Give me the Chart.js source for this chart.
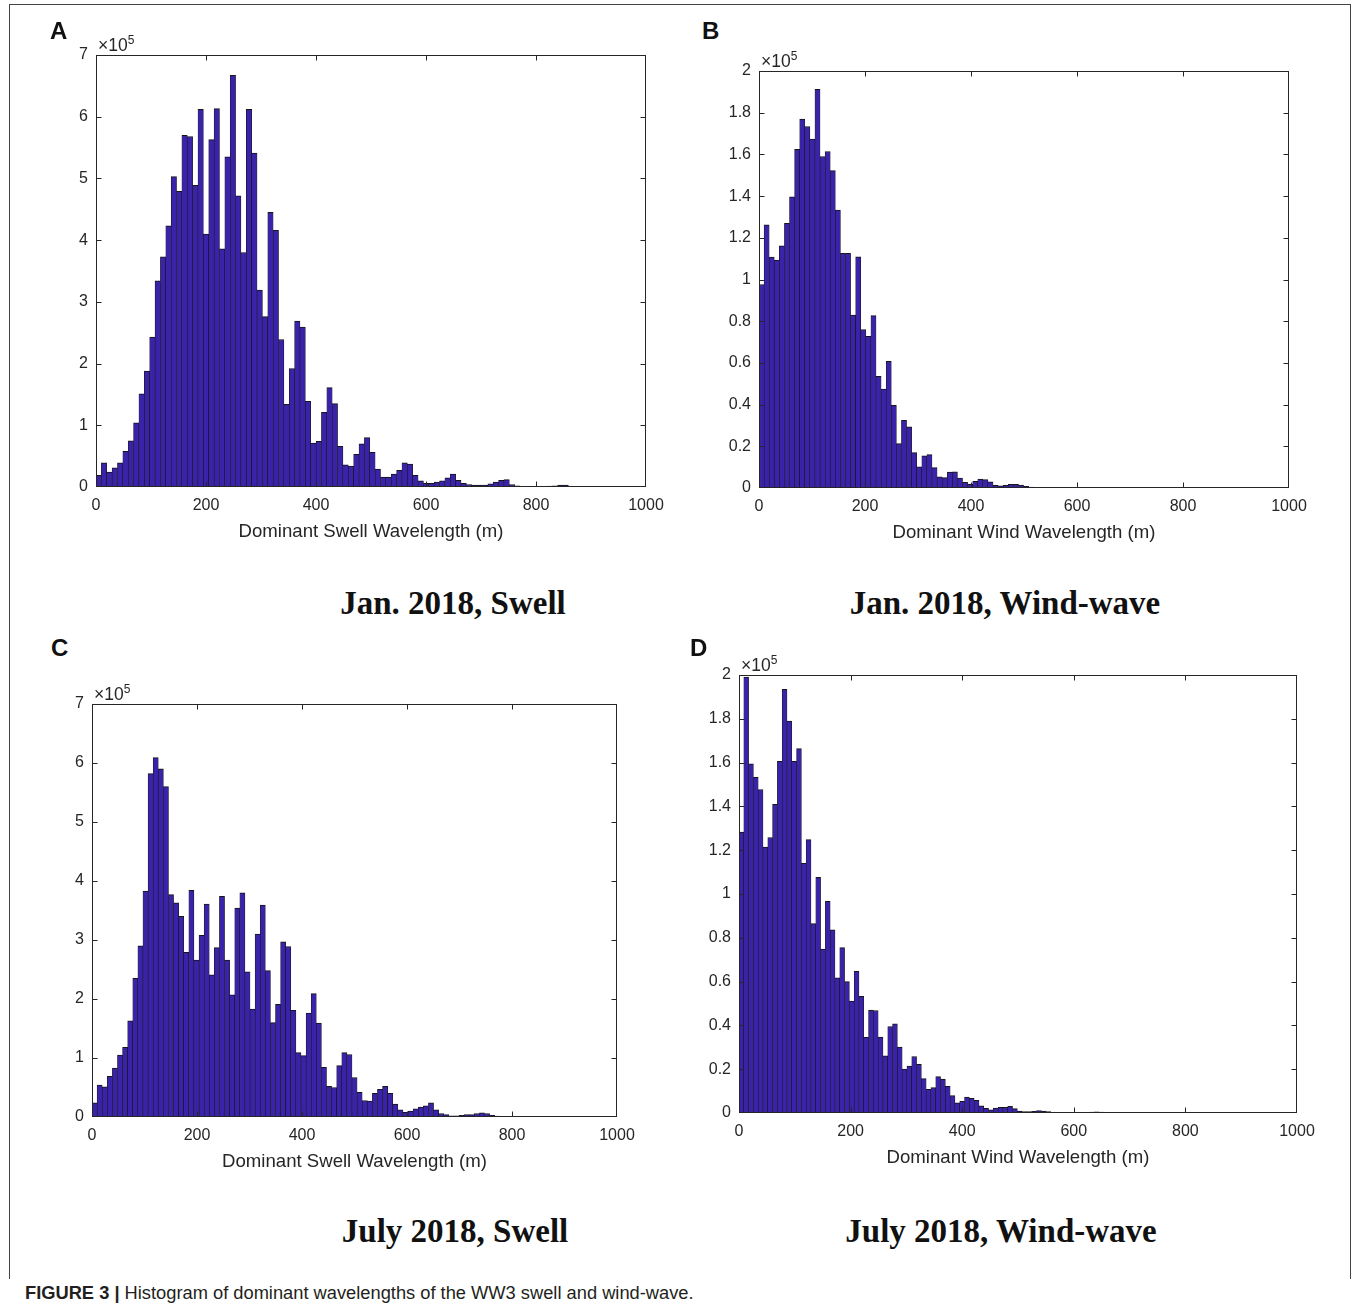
<!DOCTYPE html>
<html>
<head>
<meta charset="utf-8">
<script src="https://cdn.jsdelivr.net/npm/chart.js@4.4.0/dist/chart.umd.min.js"></script>
<style>
body { margin:0; background:#fff; width:1357px; height:1308px; position:relative; overflow:hidden;
       font-family:"Liberation Sans", Arial, Helvetica, sans-serif; }
canvas { position:absolute; }
.abs { position:absolute; white-space:nowrap; }
.frame { position:absolute; left:9px; top:4px; width:1340px; height:1274px; border:1px solid #444; border-bottom:none; }
.letter { font-weight:bold; font-size:24px; color:#111; line-height:24px; }
.mult { font-size:17.5px; color:#262626; line-height:18px; }
.mult sup { font-size:12px; vertical-align:7px; line-height:0; }
.xlabel { font-size:18.6px; color:#262626; transform:translate(-50%,-50%); }
.ptitle { font-family:"Liberation Serif", "Times New Roman", serif; font-weight:bold; font-size:33px; color:#111;
          transform:translate(-50%,-50%); }
.caption { font-size:18.3px; color:#231f20; transform:translateY(-50%); }
</style>
</head>
<body>
<div class="frame"></div>

<script>
// histogram counts, units of 1e5, one value per bin
const swellJan = [
  0.19, 0.39, 0.24, 0.31, 0.39, 0.58, 0.75, 1.04, 1.51, 1.88,
  2.43, 3.34, 3.73, 4.23, 5.03, 4.79, 5.70, 5.68, 4.89, 6.12,
  4.10, 5.63, 6.13, 3.86, 5.35, 6.67, 4.72, 3.80, 6.12, 5.41,
  3.19, 2.76, 4.45, 4.16, 2.39, 1.34, 1.92, 2.69, 2.59, 1.39,
  0.71, 0.74, 1.21, 1.61, 1.35, 0.66, 0.36, 0.34, 0.53, 0.70,
  0.80, 0.56, 0.29, 0.16, 0.16, 0.21, 0.27, 0.39, 0.37, 0.19,
  0.10, 0.06, 0.06, 0.08, 0.10, 0.15, 0.21, 0.11, 0.06, 0.04,
  0.03, 0.03, 0.03, 0.05, 0.08, 0.11, 0.12, 0.04, 0.02, 0.01,
  0.01, 0.01, 0.01, 0.01, 0.015, 0.02, 0.03, 0.03, 0.01, 0.005,
  0.005, 0.005, 0.004, 0.004, 0.004, 0.003, 0.003, 0.003, 0.002, 0.002
];
const windJan = [
  0.976, 1.262, 1.107, 1.093, 1.162, 1.270, 1.397, 1.624, 1.770, 1.734,
  1.674, 1.912, 1.590, 1.614, 1.522, 1.333, 1.126, 1.125, 0.829, 1.109,
  0.760, 0.728, 0.827, 0.536, 0.474, 0.608, 0.397, 0.213, 0.325, 0.293,
  0.170, 0.101, 0.154, 0.160, 0.098, 0.054, 0.050, 0.076, 0.077, 0.048,
  0.027, 0.019, 0.032, 0.043, 0.040, 0.029, 0.013, 0.011, 0.013, 0.018,
  0.018, 0.014, 0.008, 0.005, 0.003, 0.003, 0.003, 0.002, 0.0015, 0.0015,
  0.0015, 0.0015, 0.001, 0.001, 0.001, 0.001, 0.001, 0.001, 0.001, 0.001,
  0.001, 0.001, 0.001, 0.001, 0.001, 0.001, 0.001, 0.001, 0.001, 0.001,
  0.001, 0.001, 0.001, 0.001, 0.001, 0.0005, 0.0005, 0.0005, 0.0005, 0.0005,
  0.0005, 0.0005, 0.0005, 0.0005, 0.0005, 0.0005, 0.0005, 0.0005, 0.0005, 0.0005
];
const swellJul = [
  0.24, 0.54, 0.51, 0.69, 0.83, 1.05, 1.18, 1.63, 2.35, 2.90,
  3.83, 5.82, 6.09, 5.90, 5.60, 3.77, 3.63, 3.40, 2.79, 3.84,
  2.66, 3.08, 3.61, 2.41, 2.87, 3.74, 2.66, 2.07, 3.54, 3.80,
  2.46, 1.83, 3.10, 3.59, 2.48, 1.60, 1.91, 2.97, 2.89, 1.81,
  1.09, 1.04, 1.76, 2.09, 1.59, 0.84, 0.52, 0.50, 0.87, 1.09,
  1.06, 0.67, 0.42, 0.28, 0.27, 0.40, 0.47, 0.52, 0.40, 0.22,
  0.12, 0.08, 0.10, 0.14, 0.17, 0.19, 0.24, 0.12, 0.06, 0.04,
  0.02, 0.02, 0.03, 0.04, 0.04, 0.06, 0.07, 0.06, 0.03, 0.015,
  0.01, 0.01, 0.01, 0.01, 0.01, 0.008, 0.008, 0.008, 0.008, 0.008,
  0.005, 0.004, 0.004, 0.004, 0.003, 0.003, 0.003, 0.002, 0.002, 0.002
];
const windJul = [
  1.283, 1.991, 1.594, 1.533, 1.477, 1.214, 1.258, 1.409, 1.606, 1.935,
  1.790, 1.606, 1.664, 1.140, 1.248, 0.865, 1.076, 0.749, 0.967, 0.836,
  0.617, 0.755, 0.600, 0.511, 0.647, 0.533, 0.345, 0.470, 0.468, 0.347,
  0.261, 0.395, 0.407, 0.301, 0.201, 0.214, 0.258, 0.222, 0.157, 0.108,
  0.116, 0.166, 0.155, 0.122, 0.079, 0.046, 0.053, 0.073, 0.067, 0.058,
  0.033, 0.021, 0.015, 0.023, 0.026, 0.026, 0.030, 0.020, 0.009, 0.006,
  0.006, 0.008, 0.011, 0.009, 0.006, 0.003, 0.003, 0.002, 0.002, 0.002,
  0.002, 0.002, 0.003, 0.004, 0.005, 0.004, 0.002, 0.002, 0.002, 0.002,
  0.002, 0.002, 0.002, 0.003, 0.003, 0.002, 0.001, 0.001, 0.001, 0.001,
  0.001, 0.001, 0.001, 0.001, 0.001, 0.001, 0.001, 0.001, 0.001, 0.001
];

// bin widths in metres
const binSwellJan = 9.76;
const binWindJan = 9.6;
const binSwellJul = 9.71;
const binWindJul = 8.6;

const xTicks = [0, 200, 400, 600, 800, 1000];
const swellTicks = [0, 1, 2, 3, 4, 5, 6, 7];
const windTicks = [0, 0.2, 0.4, 0.6, 0.8, 1, 1.2, 1.4, 1.6, 1.8, 2];

const barFill = 'rgb(58, 35, 168)';
const axisColor = '#262626';
const tickFont = { family: '"Liberation Sans", Arial, sans-serif', size: 16 };

const panels = [
  { letter: 'A', values: swellJan, bin: binSwellJan, yTicks: swellTicks, L: 96, T: 55, R: 646, B: 487,
    xTitle: 'Dominant Swell Wavelength (m)', title: 'Jan. 2018, Swell', titleX: 453, titleY: 603, letterX: 50, letterY: 19 },
  { letter: 'B', values: windJan, bin: binWindJan, yTicks: windTicks, L: 759, T: 71, R: 1289, B: 488,
    xTitle: 'Dominant Wind Wavelength (m)', title: 'Jan. 2018, Wind-wave', titleX: 1005, titleY: 603, letterX: 702, letterY: 19 },
  { letter: 'C', values: swellJul, bin: binSwellJul, yTicks: swellTicks, L: 92, T: 704, R: 617, B: 1117,
    xTitle: 'Dominant Swell Wavelength (m)', title: 'July 2018, Swell', titleX: 455, titleY: 1231, letterX: 51, letterY: 636 },
  { letter: 'D', values: windJul, bin: binWindJul, yTicks: windTicks, L: 739, T: 675, R: 1297, B: 1113,
    xTitle: 'Dominant Wind Wavelength (m)', title: 'July 2018, Wind-wave', titleX: 1001, titleY: 1231, letterX: 690, letterY: 636 }
];

// MATLAB style box with inward ticks on all four sides
const boxPlugin = {
  id: 'matlabBox',
  afterDraw(chart) {
    const { ctx, chartArea: a, scales: { x, y } } = chart;
    const l = Math.round(a.left) + 0.5, r = Math.round(a.right) - 0.5;
    const t = Math.round(a.top) + 0.5, b = Math.round(a.bottom) - 0.5;
    ctx.save();
    ctx.strokeStyle = axisColor;
    ctx.lineWidth = 1;
    ctx.strokeRect(l, t, r - l, b - t);
    ctx.beginPath();
    x.ticks.forEach(tk => {
      const px = Math.round(x.getPixelForValue(tk.value)) + 0.5;
      if (px <= l + 1 || px >= r - 1) return; // end ticks sit on the box
      ctx.moveTo(px, b); ctx.lineTo(px, b - 5);
      ctx.moveTo(px, t); ctx.lineTo(px, t + 5);
    });
    y.ticks.forEach(tk => {
      const py = Math.round(y.getPixelForValue(tk.value)) + 0.5;
      if (py <= t + 1 || py >= b - 1) return;
      ctx.moveTo(l, py); ctx.lineTo(l + 5, py);
      ctx.moveTo(r, py); ctx.lineTo(r - 5, py);
    });
    ctx.stroke();
    ctx.restore();
  }
};

function addText(cls, html, left, top) {
  const d = document.createElement('div');
  d.className = 'abs ' + cls;
  d.innerHTML = html;
  d.style.left = left + 'px';
  d.style.top = top + 'px';
  document.body.appendChild(d);
}

function makePanel(p) {
  // padding wide enough that edge tick labels never shrink the plot area
  const padL = 60, padT = 24, padR = 34, padB = 40;
  const canvas = document.createElement('canvas');
  canvas.width = p.R - p.L + padL + padR;
  canvas.height = p.B - p.T + padT + padB;
  canvas.style.left = (p.L - padL) + 'px';
  canvas.style.top = (p.T - padT) + 'px';
  canvas.style.width = canvas.width + 'px';
  canvas.style.height = canvas.height + 'px';
  document.body.appendChild(canvas);

  const yMax = p.yTicks[p.yTicks.length - 1];

  new Chart(canvas, {
    type: 'bar',
    data: {
      datasets: [{
        data: p.values.map((v, i) => ({ x: (i + 0.5) * p.bin, y: v })),
        backgroundColor: barFill,
        borderColor: '#151515',
        borderWidth: { top: 1, left: 0.6, right: 0.6, bottom: 0 },
        borderSkipped: false,
        barPercentage: 1,
        categoryPercentage: 1
      }]
    },
    options: {
      responsive: false,
      animation: false,
      devicePixelRatio: 1,
      layout: { padding: { top: padT, right: padR, left: 0, bottom: 0 } },
      plugins: { legend: { display: false }, tooltip: { enabled: false } },
      scales: {
        x: {
          type: 'linear', min: 0, max: 1000, offset: false,
          grid: { display: false, drawTicks: false },
          border: { display: false },
          afterBuildTicks: s => { s.ticks = xTicks.map(v => ({ value: v })); },
          afterFit: s => { s.height = padB; },
          ticks: { padding: 9, maxRotation: 0, autoSkip: false, color: axisColor, font: tickFont,
                   callback: v => String(v) }
        },
        y: {
          type: 'linear', min: 0, max: yMax,
          grid: { display: false, drawTicks: false },
          border: { display: false },
          afterBuildTicks: s => { s.ticks = p.yTicks.map(v => ({ value: v })); },
          afterFit: s => { s.width = padL; },
          ticks: { padding: 8, autoSkip: false, color: axisColor, font: tickFont,
                   callback: v => String(v) }
        }
      }
    },
    plugins: [boxPlugin]
  });

  addText('letter', p.letter, p.letterX, p.letterY);
  addText('mult', '&times;10<sup>5</sup>', p.L + 2, p.T - 19);
  addText('xlabel', p.xTitle, (p.L + p.R) / 2, p.B + 44);
  addText('ptitle', p.title, p.titleX, p.titleY);
}

panels.forEach(makePanel);

addText('caption', '<b>FIGURE 3 |</b> Histogram of dominant wavelengths of the WW3 swell and wind-wave.', 25, 1293);
</script>
</body>
</html>
